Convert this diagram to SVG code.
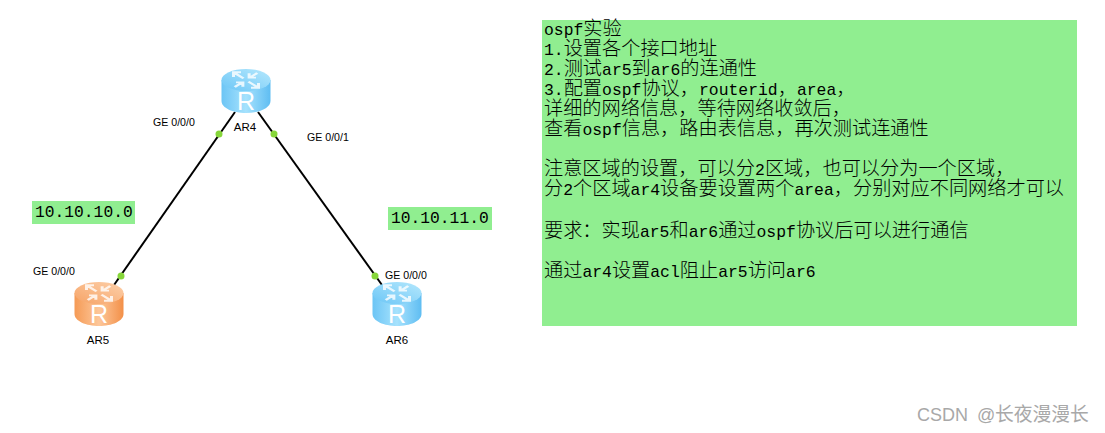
<svg xmlns="http://www.w3.org/2000/svg" width="1105" height="433" viewBox="0 0 1105 433">
<style>
.lb{font-family:"Liberation Sans",Arial,sans-serif;font-size:10.6px;fill:#000}
.nm{font-family:"Liberation Sans",Arial,sans-serif;font-size:11.5px;fill:#000;text-anchor:middle}
.net{font-family:"Liberation Mono","DejaVu Sans Mono",monospace;font-size:16.300px;fill:#000}
.t{font-family:"Noto Sans CJK SC",sans-serif;font-size:19.2px;font-weight:300;fill:#000}
.t tspan{font-family:"Liberation Mono","DejaVu Sans Mono",monospace;font-size:16.400px;font-weight:400}
.g{fill:#90ee90}
.link{stroke:#000;stroke-width:2;fill:none}
.dot{fill:#86d63a}
.R{font-family:"Liberation Sans",Arial,sans-serif;font-size:25px;fill:#fff;text-anchor:middle}
.arrows{fill:none;stroke:#fff;stroke-width:2.4;stroke-opacity:.8}
.wm{font-family:"Liberation Sans","Noto Sans CJK SC",sans-serif;font-size:18px;fill:#a8a8a8}
</style>
<defs>
<linearGradient id="blueSide" x1="0" x2="1" y1="0" y2="0"><stop offset="0" stop-color="#6cc5f5"/><stop offset=".5" stop-color="#a6e2fd"/><stop offset="1" stop-color="#5fbdf2"/></linearGradient>
<linearGradient id="blueTop" x1="0" x2="1" y1="1" y2="0"><stop offset="0" stop-color="#6cc6f6"/><stop offset="1" stop-color="#b5e8fd"/></linearGradient>
<linearGradient id="orangeSide" x1="0" x2="1" y1="0" y2="0"><stop offset="0" stop-color="#f59a55"/><stop offset=".5" stop-color="#fdc79a"/><stop offset="1" stop-color="#f39048"/></linearGradient>
<linearGradient id="orangeTop" x1="0" x2="1" y1="1" y2="0"><stop offset="0" stop-color="#f6a366"/><stop offset="1" stop-color="#fdd0aa"/></linearGradient>
<g id="arrows" transform="translate(0 -11) scale(1.25 .78)"><path class="arrows" d="M-2-2L-9-9M-10-4V-10H-4M2 2L9 9M10 4V10H4M-9 9L-3 3M-8 3H-2.500V8.500M9-9L3-3M8-3H2.500V-8.500"/></g>
</defs>
<g id="connectors">
<path class="link" d="M235 112L114 285"/>
<path class="link" d="M258 112L382 285"/>
<circle class="dot" cx="219" cy="134" r="3.5"/>
<circle class="dot" cx="274" cy="134" r="3.5"/>
<circle class="dot" cx="121" cy="276" r="3.5"/>
<circle class="dot" cx="375" cy="276" r="3.5"/>
</g>
<g id="AR4" transform="translate(246 91)">
<path d="M-24.500-11V10C-24.500 17-13 22 0 22S24.500 17 24.500 10V-11Z" fill="url(#blueSide)"/>
<ellipse cx="0" cy="-11" rx="24.500" ry="11" fill="url(#blueTop)"/>
<use href="#arrows"/>
<text class="R" x="0" y="19">R</text>
<text class="nm" x="-1" y="40">AR4</text>
</g>
<g id="AR5" transform="translate(99 304)">
<path d="M-24.500-11V10C-24.500 17-13 22 0 22S24.500 17 24.500 10V-11Z" fill="url(#orangeSide)"/>
<ellipse cx="0" cy="-11" rx="24.500" ry="11" fill="url(#orangeTop)"/>
<use href="#arrows"/>
<text class="R" x="0" y="19">R</text>
<text class="nm" x="-1" y="40">AR5</text>
</g>
<g id="AR6" transform="translate(397 304)">
<path d="M-24.500-11V10C-24.500 17-13 22 0 22S24.500 17 24.500 10V-11Z" fill="url(#blueSide)"/>
<ellipse cx="0" cy="-11" rx="24.500" ry="11" fill="url(#blueTop)"/>
<use href="#arrows"/>
<text class="R" x="0" y="19">R</text>
<text class="nm" x="0" y="40">AR6</text>
</g>
<g id="port-labels">
<text class="lb" x="153" y="126">GE 0/0/0</text>
<text class="lb" x="307" y="141">GE 0/0/1</text>
<text class="lb" x="33" y="275">GE 0/0/0</text>
<text class="lb" x="385" y="279">GE 0/0/0</text>
</g>
<g id="net-10-10-10-0">
<rect class="g" x="32" y="201" width="103" height="23"/>
<text class="net" x="35" y="217">10.10.10.0</text>
</g>
<g id="net-10-10-11-0">
<rect class="g" x="388" y="207" width="104" height="23"/>
<text class="net" x="391" y="223">10.10.11.0</text>
</g>
<g id="notes">
<rect class="g" x="542" y="20" width="535" height="306"/>
<text class="t" x="544" y="35"><tspan>ospf</tspan>实验</text>
<text class="t" x="544" y="55"><tspan>1.</tspan>设置各个接口地址</text>
<text class="t" x="544" y="75"><tspan>2.</tspan>测试<tspan>ar5</tspan>到<tspan>ar6</tspan>的连通性</text>
<text class="t" x="544" y="95"><tspan>3.</tspan>配置<tspan>ospf</tspan>协议，<tspan>routerid</tspan>，<tspan>area</tspan>，</text>
<text class="t" x="544" y="115">详细的网络信息，等待网络收敛后，</text>
<text class="t" x="544" y="135">查看<tspan>ospf</tspan>信息，路由表信息，再次测试连通性</text>
<text class="t" x="544" y="175">注意区域的设置，可以分<tspan>2</tspan>区域，也可以分为一个区域，</text>
<text class="t" x="544" y="195">分<tspan>2</tspan>个区域<tspan>ar4</tspan>设备要设置两个<tspan>area</tspan>，分别对应不同网络才可以</text>
<text class="t" x="544" y="237">要求：实现<tspan>ar5</tspan>和<tspan>ar6</tspan>通过<tspan>ospf</tspan>协议后可以进行通信</text>
<text class="t" x="544" y="277">通过<tspan>ar4</tspan>设置<tspan>acl</tspan>阻止<tspan>ar5</tspan>访问<tspan>ar6</tspan></text>
</g>
<text id="watermark" class="wm" y="421"><tspan x="917">CSDN</tspan><tspan x="977">@</tspan><tspan x="995" style="font-size:18.8px">长夜漫漫长</tspan></text>
</svg>
